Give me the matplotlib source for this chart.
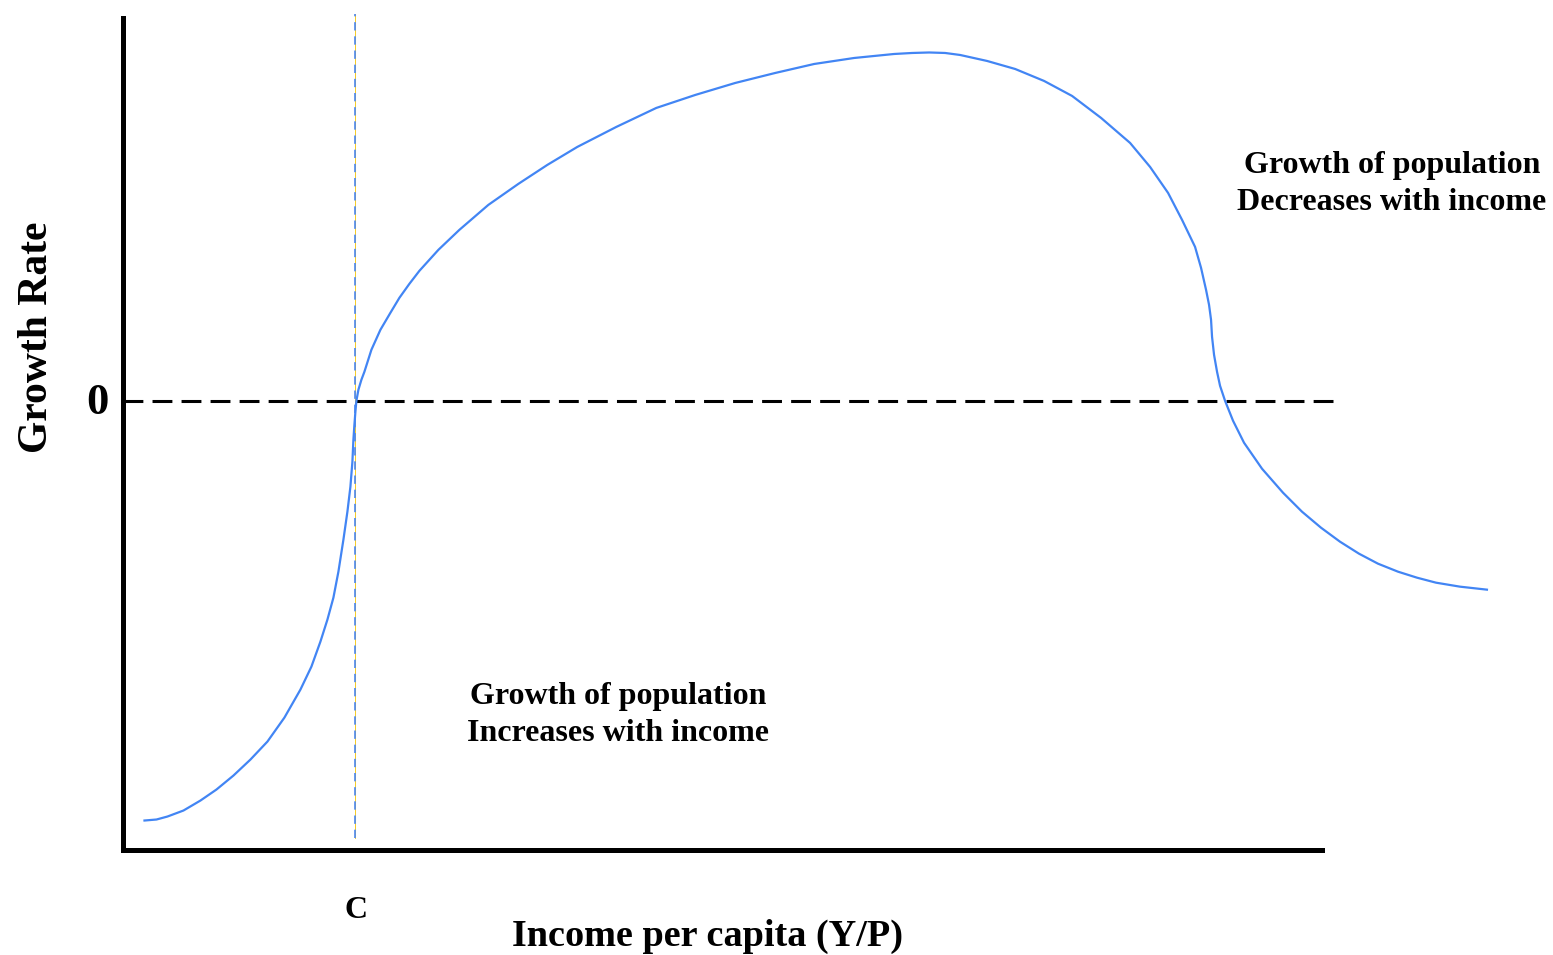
import matplotlib.pyplot as plt

# Income (x) vs growth rate (y), arbitrary units (zero growth = 0)
income = [22, 34, 45, 61, 78, 94, 111, 128, 145, 162, 178, 189, 198, 205, 211, 216,
          221, 225, 228, 230, 231, 232, 233, 234,
          236, 239, 242, 249, 258, 268, 277, 287, 297, 316, 337, 366, 396, 425, 455,
          494, 534, 573, 613, 653, 692, 732, 772, 790, 807, 823, 838, 865, 893, 922,
          950, 979, 1008, 1028, 1046, 1060, 1073, 1079, 1084, 1087, 1089, 1090, 1092,
          1095, 1098, 1103, 1111, 1122, 1140, 1161, 1180, 1199, 1218, 1237, 1256,
          1276, 1295, 1314, 1338, 1365]
growth = [-420, -419, -416, -410, -400, -389, -375, -359, -341, -317, -289, -266, -241,
          -219, -197, -171, -139, -111, -86, -61, -39, -24, -11, 0,
          11, 21, 29, 51, 71, 88, 103, 117, 130, 151, 171, 196, 217, 236, 254,
          274, 293, 306, 318, 328, 337, 343, 347, 348, 348.5, 348, 346, 340, 332, 320,
          305, 283, 258, 234, 208, 181, 154, 133, 111, 96, 81, 64, 46,
          29, 15, 0, -20, -42, -68, -92, -111, -127, -141, -153, -163,
          -171, -177, -182, -186, -189]

c_income = 233        # point C
zero_line_end = 1216
c_line = (-437, 387)

W, H = 1553, 955
fig = plt.figure(figsize=(W / 100, H / 100), dpi=100)
plt.rcParams['font.family'] = ['Liberation Serif', 'DejaVu Serif']

def px(x, y):
    return x / W, 1 - y / H

ax = fig.add_axes([122.5 / W, 1 - 849.5 / H, (1322 - 122.5) / W, (849.5 - 18) / H])
ax.set_xlim(0, 1200)
ax.set_ylim(-449, 383)
for s in ['top', 'right']:
    ax.spines[s].set_visible(False)
for s in ['left', 'bottom']:
    ax.spines[s].set_linewidth(3.6)
    ax.spines[s].set_capstyle('projecting')
ax.set_xticks([])
ax.set_yticks([])

# zero growth line
ax.plot([0, zero_line_end], [0, 0], color='black', lw=2.2,
        dashes=(6.5, 3), clip_on=False)

# vertical line at C
ax.plot([c_income, c_income], c_line, color='#f2c200', lw=0.6, clip_on=False)
ax.plot([c_income, c_income], c_line, color='#4a86f0', lw=1.2,
        dashes=(5, 3.5), clip_on=False)

# growth curve
ax.plot(income, growth, color='#4285f4', lw=1.6, clip_on=False,
        solid_joinstyle='round')

bold = dict(fontweight='bold', color='black', ha='center', va='center')
fig.text(*px(37, 337), 'Growth Rate', fontsize=30, rotation=90, **bold)
fig.text(*px(97, 403), '0', fontsize=32, **bold)
fig.text(*px(356, 910), 'C', fontsize=23, **bold)
fig.text(*px(708, 936), 'Income per capita (Y/P)', fontsize=27.5, **bold)
fig.text(*px(618, 715), 'Growth of population\nIncreases with income',
         fontsize=23, linespacing=1.35, **bold)
fig.text(*px(1392, 184), 'Growth of population\nDecreases with income',
         fontsize=23, linespacing=1.35, **bold)

fig.savefig('out.png', dpi=100)
